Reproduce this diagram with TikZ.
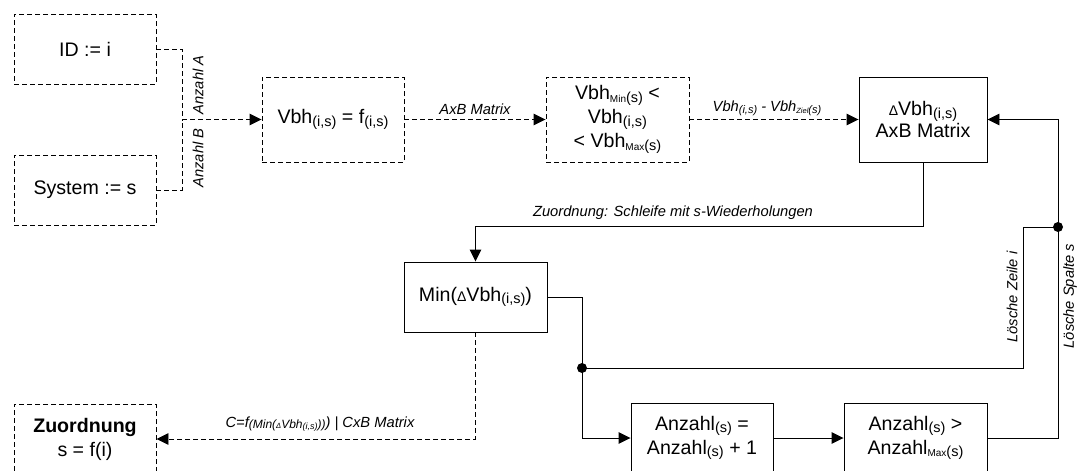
\documentclass[tikz,border=0pt]{standalone}
\usepackage{fontspec}
\setmainfont{Liberation Sans}
\usetikzlibrary{arrows.meta}
\newcommand\mainf{\fontsize{19.6pt}{24pt}\selectfont}
\newcommand\lblf{\fontsize{14.7pt}{17pt}\selectfont\itshape}
\newcommand\msub[1]{\raisebox{-2.5pt}{\fontsize{14.5pt}{14.5pt}\selectfont #1}}
\newcommand\mtiny[1]{{\fontsize{10pt}{10pt}\selectfont #1}}
\newcommand\mdelta{{\fontsize{14pt}{14pt}\selectfont Δ}}
\newcommand\lsub[1]{\raisebox{-2pt}{\fontsize{11pt}{11pt}\selectfont #1}}
\newcommand\ltiny[1]{{\fontsize{7.5pt}{7.5pt}\selectfont #1}}
\newcommand\csub[1]{\raisebox{-1pt}{\fontsize{12pt}{12pt}\selectfont #1}}
\begin{document}
\begin{tikzpicture}[x=1pt,y=-1pt,
  box/.style={draw, line width=0.95pt, inner sep=0pt, align=center, font=\mainf},
  dbox/.style={box, dash pattern=on 5pt off 3pt},
  conn/.style={line width=0.95pt},
  dconn/.style={conn, dash pattern=on 5pt off 3pt},
  arr/.style={-{Triangle[length=12pt,width=11.5pt]}},
  lbl/.style={font=\lblf, inner sep=0pt},
  dot/.style={circle, fill, inner sep=0pt, minimum size=10pt}]
\useasboundingbox (0,0) rectangle (1082,471);
\clip (0,0) rectangle (1082,471);
% boxes
\node[dbox, minimum width=142pt, minimum height=70pt] (id) at (85,49) {ID := i};
\node[dbox, minimum width=142pt, minimum height=70pt] (sys) at (85,190) {System := s};
\node[dbox, minimum width=142pt, minimum height=85pt] (vbh) at (333,119.5) {Vbh\msub{(i,s)} = f\msub{(i,s)}};
\node[dbox, minimum width=143pt, minimum height=85pt] (rng) at (617.5,119.5) {Vbh\msub{\mtiny{Min}(s)} <\\ Vbh\msub{(i,s)}\\ < Vbh\msub{\mtiny{Max}(s)}};
\node[box, minimum width=128pt, minimum height=85pt] (dlt) at (923,119.5) {\mdelta Vbh\msub{(i,s)}\\[-2pt] AxB Matrix};
\node[box, minimum width=143pt, minimum height=70pt] (min) at (475.5,297) {Min(\mdelta Vbh\msub{(i,s)})};
\node[box, minimum width=142pt, minimum height=70pt] (aeq) at (702,438) {Anzahl\msub{(s)} =\\ Anzahl\msub{(s)} + 1};
\node[box, minimum width=143pt, minimum height=70pt] (agt) at (915.5,438) {Anzahl\msub{(s)} >\\ Anzahl\msub{\mtiny{Max}(s)}};
\node[dbox, minimum width=142pt, minimum height=70pt] (zu) at (85,439) {\textbf{Zuordnung}\\ s = f(i)};
% junctions
\coordinate (j1) at (182,119.5);
\node[dot] (dA) at (582,368) {};
\node[dot] (dB) at (1058,227) {};
% connectors
\draw[dconn] (id.east) -| (j1);
\draw[dconn] (sys.east) -| (j1);
\draw[dconn,arr] (j1) -- (vbh.west);
\draw[dconn,arr] (vbh.east) -- (rng.west);
\draw[dconn,arr] (rng.east) -- (dlt.west);
\draw[conn,arr] (dlt.south) -- ++(0,64) -| (min.north);
\draw[conn] (min.east) -| (dA.center);
\draw[conn,arr] (dA.center) |- (aeq.west);
\draw[conn,arr] (aeq.east) -- (agt.west);
\draw[conn] (agt.east) -| (dB.center);
\draw[conn,arr] (dB.center) |- (dlt.east);
\draw[conn] (dB.center) -- ++(-35,0) |- (dA.center);
\draw[dconn,arr] (min.south) |- (zu.east);
% labels
\node[lbl, rotate=90] (la) at (198,85) {Anzahl A};
\node[lbl, rotate=90] (lb) at (198,158) {Anzahl B};
\node[lbl] (l1) at (475,109) {AxB Matrix};
\node[lbl] (l2) at (767,108) {Vbh\lsub{(i,s)} - Vbh\lsub{\ltiny{Ziel}(s)}};
\node[lbl] (l3) at (673,213) {Zuordnung: Schleife mit s-Wiederholungen};
\node[lbl] (l4) at (320,424) {C=f\csub{(Min(\ltiny{Δ}Vbh\raisebox{-1pt}{\fontsize{9pt}{9pt}\selectfont (i,s)}))}) | CxB Matrix};
\node[lbl, rotate=90] (l5) at (1012,297) {Lösche Zeile i};
\node[lbl, rotate=90] (l6) at (1070,296) {Lösche Spalte s};
\end{tikzpicture}
\end{document}
